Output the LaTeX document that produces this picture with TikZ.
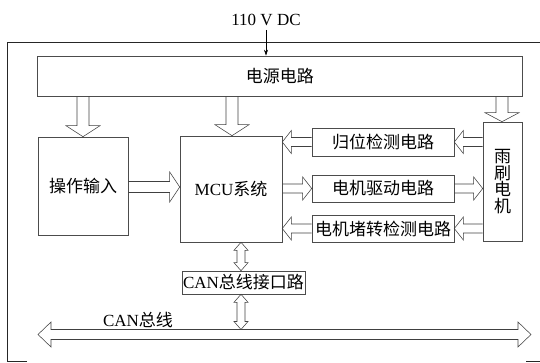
\documentclass[tikz,border=0pt]{standalone}
\usepackage{fontspec}
\setmainfont{Liberation Serif}
\newfontfamily\cjk{Noto Sans CJK SC}
\usetikzlibrary{calc,arrows.meta}
\tikzset{
  blk/.style={draw=black!70, line width=0.6pt, inner sep=0pt, font=\fontsize{17}{19}\selectfont},
  harrow/.style={draw=black!75, line width=0.55pt, line join=miter},
  frame/.style={draw=black!85, line width=0.8pt},
  thin arrow/.style={draw=black, line width=0.6pt, -{Stealth[length=6pt,width=4pt]}},
  lbl/.style={inner sep=0pt, font=\fontsize{17}{19}\selectfont}
}
% single hollow arrow: start, end, shaft half width, head half width, head length
\newcommand{\harr}[5]{%
  \path (#1) coordinate (hA) (#2) coordinate (hB);
  \coordinate (hC) at ($(hB)!#5!(hA)$);
  \draw[harrow] ($(hA)!#3!90:(hB)$) -- ($(hC)!#3!90:(hB)$) -- ($(hC)!#4!90:(hB)$) -- (hB)
     -- ($(hC)!#4!-90:(hB)$) -- ($(hC)!#3!-90:(hB)$) -- ($(hA)!#3!-90:(hB)$);
}
% double hollow arrow
\newcommand{\darr}[5]{%
  \path (#1) coordinate (hA) (#2) coordinate (hB);
  \coordinate (hC) at ($(hA)!#5!(hB)$);
  \coordinate (hD) at ($(hB)!#5!(hA)$);
  \draw[harrow] (hA) -- ($(hC)!#4!90:(hB)$) -- ($(hC)!#3!90:(hB)$) -- ($(hD)!#3!90:(hB)$)
     -- ($(hD)!#4!90:(hB)$) -- (hB) -- ($(hD)!#4!-90:(hB)$) -- ($(hD)!#3!-90:(hB)$)
     -- ($(hC)!#3!-90:(hB)$) -- ($(hC)!#4!-90:(hB)$) -- cycle;
}
\begin{document}
\begin{tikzpicture}[x=1pt,y=-1pt]
\useasboundingbox (0,0) rectangle (540,363);
% outer frame (partly visible)
\draw[frame] (27,361.5) -- (7,361.5) -- (7,42) -- (545,42);
\draw[frame] (526,361.5) -- (545,361.5);

\node[lbl] (vin) at (266,20) {110 V DC};
\node[blk, minimum width=484.3pt, minimum height=40pt] (pw) at (279.85,76) {\cjk 电源电路};
\node[blk, minimum width=90pt, minimum height=98pt] (op) at (83,186) {\cjk 操作输入};
\node[blk, minimum width=102pt, minimum height=106pt] (mcu) at (231,189) {MCU{\cjk 系统}};
\node[blk, minimum width=142pt, minimum height=28pt] (gw) at (383,142) {\cjk 归位检测电路};
\node[blk, minimum width=142pt, minimum height=27pt] (qd) at (383,188.5) {\cjk 电机驱动电路};
\node[blk, minimum width=142pt, minimum height=27pt] (dz) at (383,228.5) {\cjk 电机堵转检测电路};
\node[blk, minimum width=39pt, minimum height=119pt, align=center, font=\fontsize{17}{16.5}\selectfont] (ys) at (502.5,181.5) {\cjk 雨\\\cjk 刷\\\cjk 电\\\cjk 机};
\node[blk, minimum width=123pt, minimum height=23pt] (can) at (243.5,282.5) {CAN{\cjk 总线接口路}};
\node[lbl] (busl) at (138,320) {CAN{\cjk 总线}};

% 110 V DC input
\coordinate (vtop) at (266,30);
\draw[thin arrow] (vtop) -- (vtop |- pw.north);

% power distribution
\coordinate (px1) at (83,0);
\coordinate (px2) at (232,0);
\coordinate (px3) at (502,0);
\harr{pw.south -| px1}{op.north -| px1}{6pt}{17pt}{11pt}
\harr{pw.south -| px2}{mcu.north -| px2}{6pt}{17pt}{11pt}
\harr{pw.south -| px3}{ys.north -| px3}{6pt}{17pt}{9pt}

% operation input -> MCU
\coordinate (oy) at (0,187);
\harr{op.east |- oy}{mcu.west |- oy}{5.5pt}{15pt}{10pt}

% right side chain
\harr{gw.west}{gw.west -| mcu.east}{4.5pt}{11.5pt}{9pt}
\harr{gw.east -| ys.west}{gw.east}{4.5pt}{11.5pt}{9pt}
\harr{qd.west -| mcu.east}{qd.west}{4.5pt}{11.5pt}{9pt}
\harr{qd.east}{qd.east -| ys.west}{4.5pt}{11.5pt}{9pt}
\harr{dz.east -| ys.west}{dz.east}{4.5pt}{11.5pt}{9pt}
\harr{dz.west}{dz.west -| mcu.east}{4.5pt}{11.5pt}{9pt}

% CAN links
\coordinate (cx) at (241,0);
\coordinate (bustop) at (241,329.5);
\darr{mcu.south -| cx}{can.north -| cx}{4pt}{7pt}{8pt}
\darr{can.south -| cx}{bustop}{4pt}{7pt}{8pt}

% CAN bus
\coordinate (busA) at (38,334.5);
\coordinate (busB) at (531,334.5);
\darr{busA}{busB}{5pt}{12.5pt}{13pt}
\end{tikzpicture}
\end{document}
